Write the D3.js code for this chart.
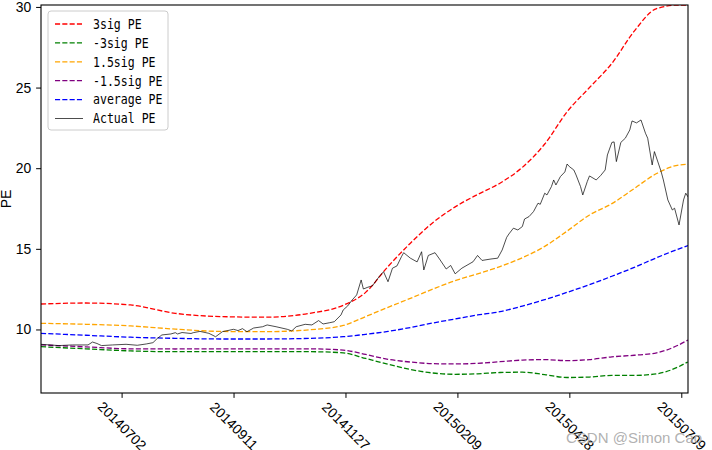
<!DOCTYPE html>
<html>
<head>
<meta charset="utf-8">
<script src="https://cdn.jsdelivr.net/npm/d3@7"></script>
<style>
  html, body { margin: 0; padding: 0; background: #fff; }
  svg { display: block; }
</style>
</head>
<body>
<svg id="chart" width="712" height="450"></svg>
<script>
// ---- data (trading-day index) ----
const bandDay = [0,20,40,60,80,100,120,135,145,155,165,175,185,195,205,215,225,235,245,255,265,275,285,289];
const pe3sig  = [11.58,11.64,11.52,11.0,10.8,10.76,11.0,11.5,12.3,13.9,15.35,16.62,17.6,18.37,19.07,20.05,21.5,23.5,25.0,26.5,28.5,29.9,30.12,30.12];
const peNeg3sig = [8.93,8.8,8.67,8.62,8.62,8.62,8.62,8.55,8.2,7.85,7.52,7.3,7.22,7.25,7.33,7.35,7.2,7.02,7.05,7.15,7.15,7.25,7.7,8.0];
const pe15sig = [10.38,10.32,10.22,10.02,9.88,9.86,9.98,10.25,10.8,11.37,11.93,12.5,13.03,13.45,13.9,14.45,15.15,16.1,17.1,17.8,18.74,19.67,20.2,20.24];
const peNeg15sig = [9.04,8.92,8.8,8.79,8.8,8.8,8.8,8.72,8.45,8.15,7.98,7.88,7.86,7.9,8.0,8.1,8.13,8.07,8.13,8.3,8.4,8.55,9.05,9.35];
const peAverage = [9.76,9.64,9.52,9.45,9.41,9.41,9.45,9.55,9.7,9.88,10.12,10.4,10.65,10.9,11.1,11.45,11.85,12.3,12.78,13.3,13.85,14.45,15.0,15.2];

const actualDay = [0,4,8,14,21,23,25,27,32,38,43,47,50,52,54,58,60,61,63,67,68,71,75,78,81,86,88,90,92,95,99,101,105,110,112,114,118,121,124,126,129,131,134,135,137,139,141,143,144,146,148,151,153,155,157,159,161,162,165,168,170,171,173,176,178,181,183,185,188,193,195,197,201,204,206,208,209,211,213,215,216,218,220,222,223,225,226,228,229,230,232,234,235,236,238,239,241,242,244,245,248,250,252,253,255,256,257,259,261,263,264,266,268,270,271,273,274,277,278,279,280,282,283,285,287,288,289];
const actualPE = [9.08,9.04,9.00,9.04,9.04,9.22,9.13,9.00,9.04,9.08,9.02,9.10,9.18,9.45,9.66,9.72,9.80,9.72,9.81,9.75,9.80,9.88,9.76,9.55,9.86,10.01,9.93,10.05,9.86,10.09,10.17,10.28,10.17,10.01,9.91,10.17,10.32,10.28,10.55,10.34,10.42,10.48,10.90,11.21,11.46,11.83,12.14,13.07,12.51,12.62,12.70,13.27,13.58,12.96,13.80,13.94,14.51,14.76,14.42,14.19,14.82,13.69,14.59,14.76,14.37,13.75,13.97,13.45,13.80,14.20,14.59,14.28,14.37,14.42,14.93,15.71,15.92,16.28,16.17,16.38,16.85,17.00,17.31,17.83,17.76,18.45,18.34,18.86,19.27,18.96,19.48,19.77,20.26,20.10,19.89,19.58,18.86,18.34,19.17,19.52,19.27,19.55,19.89,20.82,21.60,21.63,20.41,21.60,21.86,22.37,22.93,22.81,22.99,22.17,21.86,20.20,21.03,19.79,19.27,18.65,18.03,17.41,17.52,16.48,18.03,18.45,18.22];

const xTickDays = [36, 86, 136, 186, 236, 286];
const xTickLabels = ["20140702", "20140911", "20141127", "20150209", "20150428", "20150709"];
const yTicks = [10, 15, 20, 25, 30];

const seriesNames = ["3sig PE", "-3sig PE", "1.5sig PE", "-1.5sig PE", "average PE", "Actual PE"];
const seriesColors = ["red", "green", "orange", "purple", "blue", "black"];

// ---- layout ----
const svg = d3.select("#chart");
const L = 41, R = 688, T = 5, B = 393;
const x = d3.scaleLinear().domain([0, 289]).range([L, R]);
const y = d3.scaleLinear().domain([6.06, 30.12]).range([B, T]);

svg.append("defs").append("clipPath").attr("id", "clip")
  .append("rect").attr("x", L).attr("y", T).attr("width", R - L).attr("height", B - T);

const plot = svg.append("g").attr("clip-path", "url(#clip)");

const bands = [pe3sig, peNeg3sig, pe15sig, peNeg15sig, peAverage];
const bandLine = d3.line()
  .x((d, i) => x(bandDay[i]))
  .y(d => y(d))
  .curve(d3.curveMonotoneX);

bands.forEach((vals, k) => {
  plot.append("path")
    .datum(vals)
    .attr("d", bandLine)
    .attr("fill", "none")
    .attr("stroke", seriesColors[k])
    .attr("stroke-width", 1.3)
    .attr("stroke-dasharray", "5.1,2.2");
});

const actLine = d3.line()
  .x((d, i) => x(actualDay[i]))
  .y(d => y(d));
plot.append("path")
  .datum(actualPE)
  .attr("d", actLine)
  .attr("fill", "none")
  .attr("stroke", "#000")
  .attr("stroke-width", 0.7);

// ---- frame ----
svg.append("rect")
  .attr("x", L).attr("y", T).attr("width", R - L).attr("height", B - T)
  .attr("fill", "none").attr("stroke", "#000").attr("stroke-width", 1.1);

// ---- axes ----
const tickFont = "'Liberation Sans', Arial, sans-serif";
const yAxis = d3.axisLeft(y).tickValues(yTicks).tickSize(4.9).tickPadding(4.9).tickFormat(d3.format("d"));
const gy = svg.append("g").attr("transform", `translate(${L},0)`).call(yAxis);
gy.select(".domain").remove();
gy.selectAll("line").attr("stroke", "#000").attr("stroke-width", 1);
gy.selectAll("text").attr("font-family", tickFont).attr("font-size", "13.9px").attr("fill", "#000");

const xAxis = d3.axisBottom(x).tickValues(xTickDays).tickSize(4.9)
  .tickFormat((d, i) => xTickLabels[i]);
const gx = svg.append("g").attr("transform", `translate(0,${B})`).call(xAxis);
gx.select(".domain").remove();
gx.selectAll("line").attr("stroke", "#000").attr("stroke-width", 1);
gx.selectAll("text")
  .attr("font-family", tickFont).attr("font-size", "13.9px").attr("fill", "#000")
  .attr("text-anchor", "middle")
  .attr("x", 0).attr("y", 0).attr("dy", "0.35em")
  .attr("transform", "translate(0,33) rotate(45)");

svg.append("text")
  .attr("transform", `translate(6.5,${(T + B) / 2}) rotate(-90)`)
  .attr("text-anchor", "middle").attr("dy", "0.35em")
  .attr("font-family", tickFont).attr("font-size", "13.9px")
  .text("PE");

// ---- legend ----
const lg = svg.append("g");
lg.append("rect")
  .attr("x", 48).attr("y", 11).attr("width", 120).attr("height", 119)
  .attr("rx", 3).attr("fill", "#fff").attr("fill-opacity", 0.8)
  .attr("stroke", "#cccccc").attr("stroke-width", 1);
seriesNames.forEach((name, i) => {
  const yy = 24 + i * 18.9;
  lg.append("line")
    .attr("x1", 55).attr("x2", 83).attr("y1", yy).attr("y2", yy)
    .attr("stroke", seriesColors[i])
    .attr("stroke-width", i === 5 ? 0.7 : 1.3)
    .attr("stroke-dasharray", i === 5 ? null : "5.1,2.2");
  lg.append("text")
    .attr("x", 93).attr("y", yy).attr("dy", "0.36em")
    .attr("font-family", "'DejaVu Sans Mono', 'Liberation Mono', monospace")
    .attr("font-size", "13.5px")
    .attr("textLength", name.length * 6.95)
    .attr("lengthAdjust", "spacingAndGlyphs")
    .text(name);
});

// ---- watermark ----
svg.append("text")
  .attr("x", 566).attr("y", 443)
  .attr("font-family", tickFont).attr("font-size", "15px")
  .attr("fill", "#a8a8a8").attr("fill-opacity", 0.9)
  .text("CSDN @Simon Cao");
</script>
</body>
</html>
